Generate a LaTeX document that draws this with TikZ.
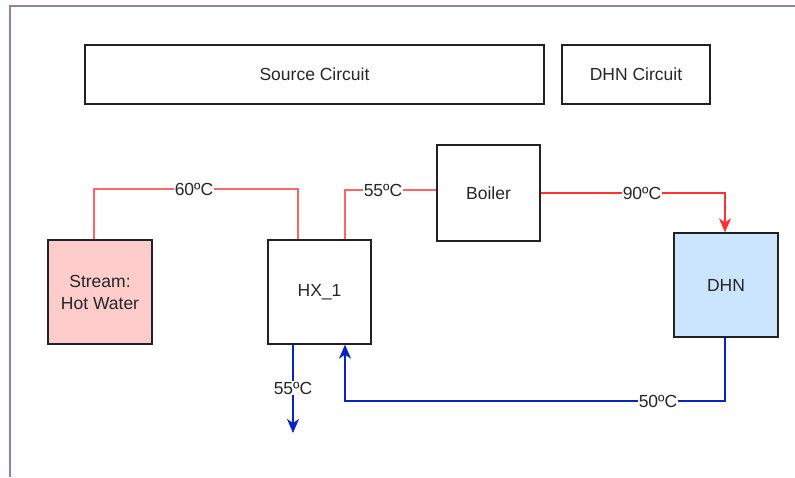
\documentclass[tikz,border=0pt]{standalone}
\usepackage{fontspec}
\setmainfont{Liberation Sans}
\usetikzlibrary{arrows.meta}
\definecolor{framec}{HTML}{9A8088}
\definecolor{pinkf}{HTML}{FFCCCC}
\definecolor{bluef}{HTML}{CCE5FF}
\definecolor{lred}{HTML}{FF6666}
\definecolor{sred}{HTML}{FF3333}
\definecolor{dblue}{HTML}{0A24C4}
\definecolor{bordc}{HTML}{222222}
\tikzset{
  x=1pt,y=-1pt,
  every node/.style={font=\fontsize{17.5}{21}\selectfont, text=black!85},
  blk/.style={draw=bordc, line width=1.3pt, inner sep=0pt},
  lbl/.style={fill=white, inner sep=1pt},
  thinred/.style={draw=lred, line width=1.1pt},
  thickred/.style={draw=sred, line width=1.8pt},
  blueline/.style={draw=dblue, line width=1.6pt},
  arrowend/.style={arrows={-Stealth[length=14pt,width=12pt,inset=4pt]}}
}
\begin{document}
\begin{tikzpicture}
\useasboundingbox (0,0) rectangle (795,477);
\draw[framec, line width=1.2pt] (10,477) -- (10,6) -- (795,6);
% boxes
\node[blk, minimum width=459pt, minimum height=59pt] (src) at (314.5,74.5) {Source Circuit};
\node[blk, minimum width=148pt, minimum height=59pt] (dhnc) at (636,74.5) {DHN Circuit};
\node[blk, fill=pinkf, minimum width=104pt, minimum height=104pt, align=center] (stream) at (100,292) {Stream:\\[1pt]Hot Water};
\node[blk, minimum width=103pt, minimum height=104pt] (hx) at (319.5,292) {HX\_1};
\node[blk, minimum width=103pt, minimum height=96pt] (boiler) at (488.5,193) {Boiler};
\node[blk, fill=bluef, minimum width=104pt, minimum height=104pt] (dhn) at (726,285) {DHN};
% connectors
\coordinate (a1) at (94,189);
\coordinate (a2) at (298,189);
\draw[thinred] (stream.north -| a1) -- (a1) -- (a2) -- (hx.north -| a2);
\node[lbl] (t60) at (194,189) {60ºC};
\coordinate (b1) at (345,190);
\draw[thinred] (hx.north -| b1) -- (b1) -- (boiler.west |- b1);
\node[lbl] (t55a) at (383,190) {55ºC};
\coordinate (c1) at (725,193);
\draw[thickred, arrowend] (boiler.east |- c1) -- (c1) -- (dhn.north -| c1);
\node[lbl] (t90) at (642,193) {90ºC};
\coordinate (d1) at (725,401);
\coordinate (d2) at (345,401);
\draw[blueline, arrowend] (dhn.south -| d1) -- (d1) -- (d2) -- (hx.south -| d2);
\node[lbl] (t50) at (658,401) {50ºC};
\coordinate (e1) at (293,433);
\draw[draw=dblue, line width=1.2pt, arrowend] (hx.south -| e1) -- (e1);
\node[lbl] (t55b) at (293,388) {55ºC};
\end{tikzpicture}
\end{document}
